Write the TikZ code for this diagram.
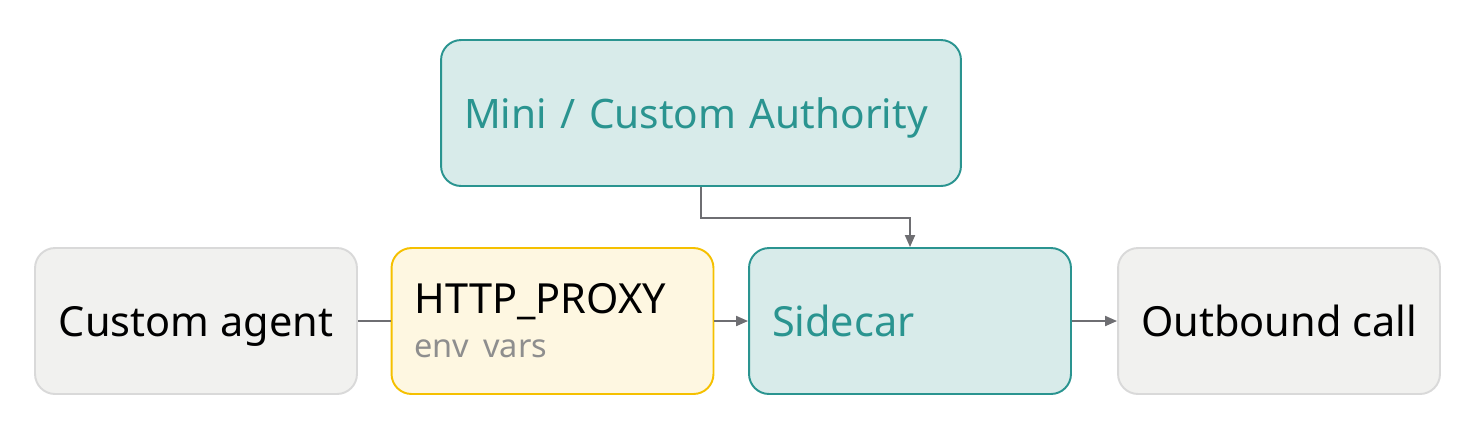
\documentclass[tikz,border=0pt]{standalone}
\usepackage{fontspec}
\setmainfont{Noto Sans}
\usepackage{xcolor}
\usepackage{tikz}
\usetikzlibrary{arrows.meta}
\definecolor{tealline}{HTML}{2A9490}
\definecolor{tealfill}{HTML}{D8EBEA}
\definecolor{grayline}{HTML}{D9D9D9}
\definecolor{grayfill}{HTML}{F1F1EF}
\definecolor{yellowline}{HTML}{F5C000}
\definecolor{yellowfill}{HTML}{FEF7E1}
\definecolor{arrowgray}{HTML}{6E6E72}
\definecolor{subgray}{HTML}{8E8E8E}
\tikzset{
	box/.style={draw, rounded corners=0.4cm, line width=1.1pt, minimum width=6.44cm, minimum height=2.92cm, inner sep=0pt, font=\fontsize{23.6}{28}\selectfont},
	oneline/.style={text height=0.6cm, text depth=0pt},
	graybox/.style={box, oneline, draw=grayline, fill=grayfill},
	tealbox/.style={box, oneline, draw=tealline, fill=tealfill, text=tealline, text width=5.52cm, align=left, inner xsep=0.46cm},
	yellowbox/.style={box, draw=yellowline, fill=yellowfill, text width=5.52cm, align=left, inner xsep=0.46cm},
	link/.style={draw=arrowgray, line width=1.1pt},
	arrow/.style={link, -{Triangle[length=0.24cm,width=0.2cm]}}
}
\begin{document}
\begin{tikzpicture}[x=0.02cm,y=-0.02cm]
	\useasboundingbox (0,0) rectangle (1477,441);
	\node[graybox] (agent) at (196,321) {Custom agent};
	\node[yellowbox] (proxy) at (552.5,321) {HTTP\_PROXY\\[-3pt]{\color{subgray}\fontsize{18.5}{20}\selectfont env vars}};
	\node[tealbox] (sidecar) at (910,321) {Sidecar};
	\node[graybox] (outbound) at (1279,321) {Outbound call};
	\node[tealbox, minimum width=10.4cm, text width=9.48cm, font=\fontsize{23.1}{28}\selectfont] (authority) at (701,113) {Mini / Custom Authority};
	\draw[link] (agent) -- (proxy);
	\draw[arrow] (proxy) -- (sidecar);
	\draw[arrow] (sidecar) -- (outbound);
	\draw[arrow] (authority.south) -- ++(0,31) -| (sidecar.north);
\end{tikzpicture}
\end{document}
